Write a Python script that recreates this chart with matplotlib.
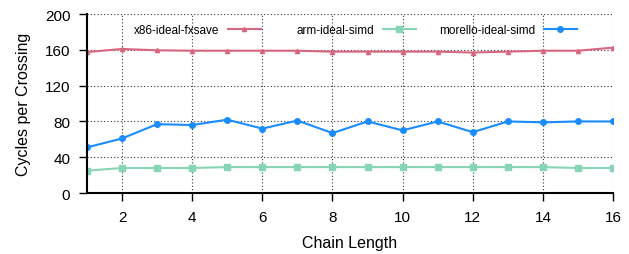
import numpy as np
import matplotlib
matplotlib.use("Agg")
import matplotlib.pyplot as plt

plt.rcParams['font.family'] = ['Liberation Sans', 'DejaVu Sans']

# dados
chain_length = list(range(1, 17))
x86_fxsave = [157.5, 161, 159.5, 159, 159, 159, 159, 158, 158, 158, 158, 157, 158, 159, 159, 162.5]
arm_simd = [25, 28, 28, 28, 29, 29, 29, 29, 29, 29, 29, 29, 29, 29, 28, 28]
morello_simd = [51, 61, 77, 76, 82, 72, 81, 67, 80, 70, 80, 68, 80, 79, 80, 80]

y_ticks = [0, 40, 80, 120, 160, 200]
x_ticks = [2, 4, 6, 8, 10, 12, 14, 16]

fig = plt.figure(figsize=(6.29, 2.55), dpi=100)
ax = fig.add_axes([0.1383, 0.239, 0.8363, 0.702])

l1, = ax.plot(chain_length, x86_fxsave, color='#d9667f', lw=1.5, marker='^', ms=3,
              label='x86-ideal-fxsave')
l2, = ax.plot(chain_length, arm_simd, color='#86d6b4', lw=1.5, marker='s', ms=4,
              label='arm-ideal-simd')
l3, = ax.plot(chain_length, morello_simd, color='#1a8cff', lw=1.5, marker='o', ms=4,
              label='morello-ideal-simd')

ax.set_xlim(1, 16)
ax.set_ylim(0, 200)
ax.set_xticks(x_ticks)
ax.set_yticks(y_ticks)
ax.grid(True, linestyle=(0, (1, 2)), color='#333333', lw=0.8)
ax.tick_params(direction='out', length=6, width=1, labelsize=11, pad=6)
for s in ['top', 'right']:
    ax.spines[s].set_visible(False)
for s in ['left', 'bottom']:
    ax.spines[s].set_linewidth(1.5)

ax.set_xlabel('Chain Length', fontsize=11.5, labelpad=8)
ax.set_ylabel('Cycles per Crossing', fontsize=11.5, labelpad=10)

# legenda estilo gnuplot: texto depois a linha, cada entrada no seu lugar
for linha, xr in [(l1, 0.33), (l2, 0.625), (l3, 0.931)]:
    leg = ax.legend(handles=[linha], loc='center right', bbox_to_anchor=(xr, 0.91),
                    frameon=False, markerfirst=False, fontsize=8.5,
                    handlelength=2.8, handletextpad=0.7, borderaxespad=0, borderpad=0)
    if linha is not l3:
        ax.add_artist(leg)

plt.savefig('out.png', dpi=100)
